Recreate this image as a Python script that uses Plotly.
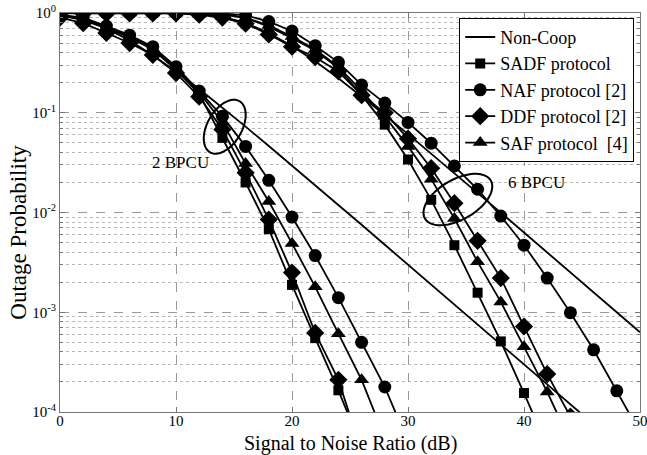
import numpy as np
import plotly.graph_objects as go

snr = [0, 2, 4, 6, 8, 10, 12, 14, 16, 18, 20, 22, 24, 26, 28, 30,
       32, 34, 36, 38, 40, 42, 44, 46, 48, 50]

# ---- 2 BPCU ----
noncoop_2 = [0.95, 0.85, 0.70, 0.53, 0.378, 0.259, 0.173, 0.113, 0.0726, 0.0464,
             0.0296, 0.0188, 0.0119, 0.00753, 0.00475, 0.0030, 0.00189, 0.00119,
             0.000753, 0.000475, 0.0003, 0.000189, 0.000119, 7.5e-5, 4.75e-5, 3e-5]
sadf_2 = [0.95, 0.87, 0.71, 0.57, 0.43, 0.27, 0.155, 0.056, 0.020, 0.0068, 0.00188,
          0.00055, 0.000165, 4.4e-5]
naf_2 = [0.96, 0.90, 0.74, 0.60, 0.46, 0.29, 0.165, 0.092, 0.046, 0.021, 0.0090,
         0.0037, 0.0014, 0.0005, 0.000178, 5e-5]
ddf_2 = [0.90, 0.79, 0.63, 0.50, 0.38, 0.25, 0.145, 0.068, 0.025, 0.0085, 0.0025,
         0.00062, 0.00021, 4e-5]
saf_2 = [0.95, 0.88, 0.72, 0.58, 0.44, 0.28, 0.16, 0.080, 0.031, 0.0129, 0.0049,
         0.0018, 0.00061, 0.00021, 5.5e-5]

# ---- 6 BPCU ----
noncoop_6 = [1.0, 1.0, 1.0, 1.0, 0.9998, 0.998, 0.981, 0.919, 0.795, 0.631, 0.467,
             0.328, 0.222, 0.146, 0.095, 0.061, 0.039, 0.0248, 0.0157, 0.00998,
             0.0063, 0.00397, 0.0025, 0.00158, 0.000998, 0.00063]
sadf_6 = [1.0, 1.0, 1.0, 1.0, 1.0, 1.0, 0.995, 0.97, 0.89, 0.73, 0.56, 0.42, 0.28,
          0.15, 0.076, 0.034, 0.0134, 0.0047, 0.00157, 0.00051, 0.000155, 4.5e-5]
naf_6 = [1.0, 1.0, 1.0, 1.0, 1.0, 1.0, 1.0, 0.99, 0.95, 0.82, 0.66, 0.47, 0.32,
         0.19, 0.125, 0.080, 0.0495, 0.0293, 0.0171, 0.0092, 0.0047, 0.0022,
         0.00099, 0.00042, 0.000163, 6.2e-5]
ddf_6 = [0.99, 0.99, 0.99, 0.99, 0.99, 0.99, 0.96, 0.90, 0.78, 0.61, 0.46, 0.36,
         0.26, 0.15, 0.10, 0.055, 0.0278, 0.0124, 0.0052, 0.0022, 0.00072, 0.00024,
         9e-5]
saf_6 = [1.0, 1.0, 1.0, 1.0, 1.0, 1.0, 0.998, 0.98, 0.90, 0.75, 0.58, 0.43, 0.29,
         0.165, 0.092, 0.046, 0.0216, 0.0087, 0.0032, 0.00127, 0.00045, 0.000159,
         5e-5]

legend_names = ["Non-Coop", "SADF protocol", "NAF protocol [2]", "DDF protocol [2]",
                "SAF protocol  [4]"]

y_tickvals = [1e-4, 1e-3, 1e-2, 1e-1, 1]
y_ticktext = ["10<sup>-4</sup>", "10<sup>-3</sup>", "10<sup>-2</sup>",
              "10<sup>-1</sup>", "10<sup>0</sup>"]
x_tickvals = [0, 10, 20, 30, 40, 50]

FONT = "Liberation Serif"

fig = go.Figure()

series = [
    ("Non-Coop", noncoop_2, noncoop_6, None, 0),
    ("SADF", sadf_2, sadf_6, "square", 10),
    ("NAF", naf_2, naf_6, "circle", 13),
    ("DDF", ddf_2, ddf_6, "diamond", 14),
    ("SAF", saf_2, saf_6, "triangle-up", 13),
]

for i, (key, v2, v6, sym, size) in enumerate(series):
    for j, vals in enumerate([v2, v6]):
        mode = "lines" if sym is None else "lines+markers"
        kw = {}
        if sym is not None:
            kw["marker"] = dict(symbol=sym, size=size, color="black",
                                line=dict(width=0))
        fig.add_trace(go.Scatter(
            x=snr[:len(vals)], y=vals, mode=mode,
            name=legend_names[i], legendgroup=key, showlegend=(j == 0),
            line=dict(color="black", width=1.8), **kw))

# ellipses (in data units: dB, log10) converted to paper coordinates
XR = (0, 50)
YR = (-4, 0)
W_PX, H_PX = 580, 399


def ellipse_path(cx, cy_log, a_px, b_px, ang_deg):
    t = np.linspace(0, 2 * np.pi, 80)
    ang = np.deg2rad(ang_deg)
    cxp = (cx - XR[0]) / (XR[1] - XR[0]) * W_PX
    cyp = (cy_log - YR[0]) / (YR[1] - YR[0]) * H_PX
    xs = cxp + a_px * np.cos(t) * np.cos(ang) - b_px * np.sin(t) * np.sin(ang)
    ys = cyp + a_px * np.cos(t) * np.sin(ang) + b_px * np.sin(t) * np.cos(ang)
    xs = xs / W_PX
    ys = ys / H_PX
    pts = [f"{x:.5f},{y:.5f}" for x, y in zip(xs, ys)]
    return "M" + " L".join(pts) + " Z"


fig.add_shape(type="path", xref="paper", yref="paper",
              path=ellipse_path(14.2, -1.14, 29.5, 17.2, 60),
              line=dict(color="black", width=2))
fig.add_shape(type="path", xref="paper", yref="paper",
              path=ellipse_path(34.3, -1.87, 38, 20, 30),
              line=dict(color="black", width=2))

fig.add_annotation(x=10.4, y=np.log10(0.032), text="2 BPCU", showarrow=False,
                   font=dict(family=FONT, size=17, color="black"))
fig.add_annotation(x=41.1, y=np.log10(0.0199), text="6 BPCU", showarrow=False,
                   font=dict(family=FONT, size=17, color="black"))

# axis titles placed as text
fig.add_annotation(xref="paper", yref="paper", x=-0.072, y=0.45,
                   text="Outage Probability", textangle=-90, showarrow=False,
                   xanchor="center", yanchor="middle",
                   font=dict(family=FONT, size=23, color="black"))
fig.add_annotation(xref="paper", yref="paper", x=0.5, y=-0.078,
                   text="Signal to Noise Ratio (dB)", showarrow=False,
                   xanchor="center", yanchor="middle",
                   font=dict(family=FONT, size=20, color="black"))

minor_vals = [m * 10.0 ** e for e in range(-4, 0) for m in range(2, 10)]

fig.update_xaxes(range=[0, 50], tickvals=x_tickvals, showgrid=True,
                 gridcolor="#9a9a9a", griddash="dash", gridwidth=1,
                 showline=True, linecolor="#777", linewidth=1, mirror="ticks",
                 ticks="inside", ticklen=5, tickcolor="#777",
                 zeroline=False, automargin=False, ticklabeloverflow="allow",
                 tickfont=dict(family=FONT, size=15, color="black"))
try:
    fig.update_xaxes(ticklabelstandoff=-5)
except Exception:
    pass
fig.update_yaxes(type="log", range=[-4, 0], tickvals=y_tickvals,
                 ticktext=y_ticktext, showgrid=True, gridcolor="#9a9a9a",
                 griddash="dash", gridwidth=1,
                 minor=dict(tickvals=minor_vals, showgrid=True,
                            gridcolor="#b8b8b8", griddash="dot",
                            ticks="inside", ticklen=3, tickcolor="#777"),
                 showline=True, linecolor="#777", linewidth=1, mirror="ticks",
                 ticks="inside", ticklen=5, tickcolor="#777",
                 zeroline=False, automargin=False, ticklabeloverflow="allow",
                 tickfont=dict(family=FONT, size=15, color="black"))

fig.update_layout(
    width=647, height=455,
    margin=dict(l=60, r=7, t=13, b=43, autoexpand=False),
    plot_bgcolor="white", paper_bgcolor="white",
    legend=dict(x=0.99, y=0.988, xanchor="right", yanchor="top",
                bgcolor="white", bordercolor="black", borderwidth=1,
                font=dict(family=FONT, size=18, color="black"),
                tracegroupgap=0, itemwidth=30),
    showlegend=True,
)

fig.write_html("out.html", config={"displayModeBar": False},
               post_script="document.body.style.margin='0';"
                           "document.body.style.padding='0';")
